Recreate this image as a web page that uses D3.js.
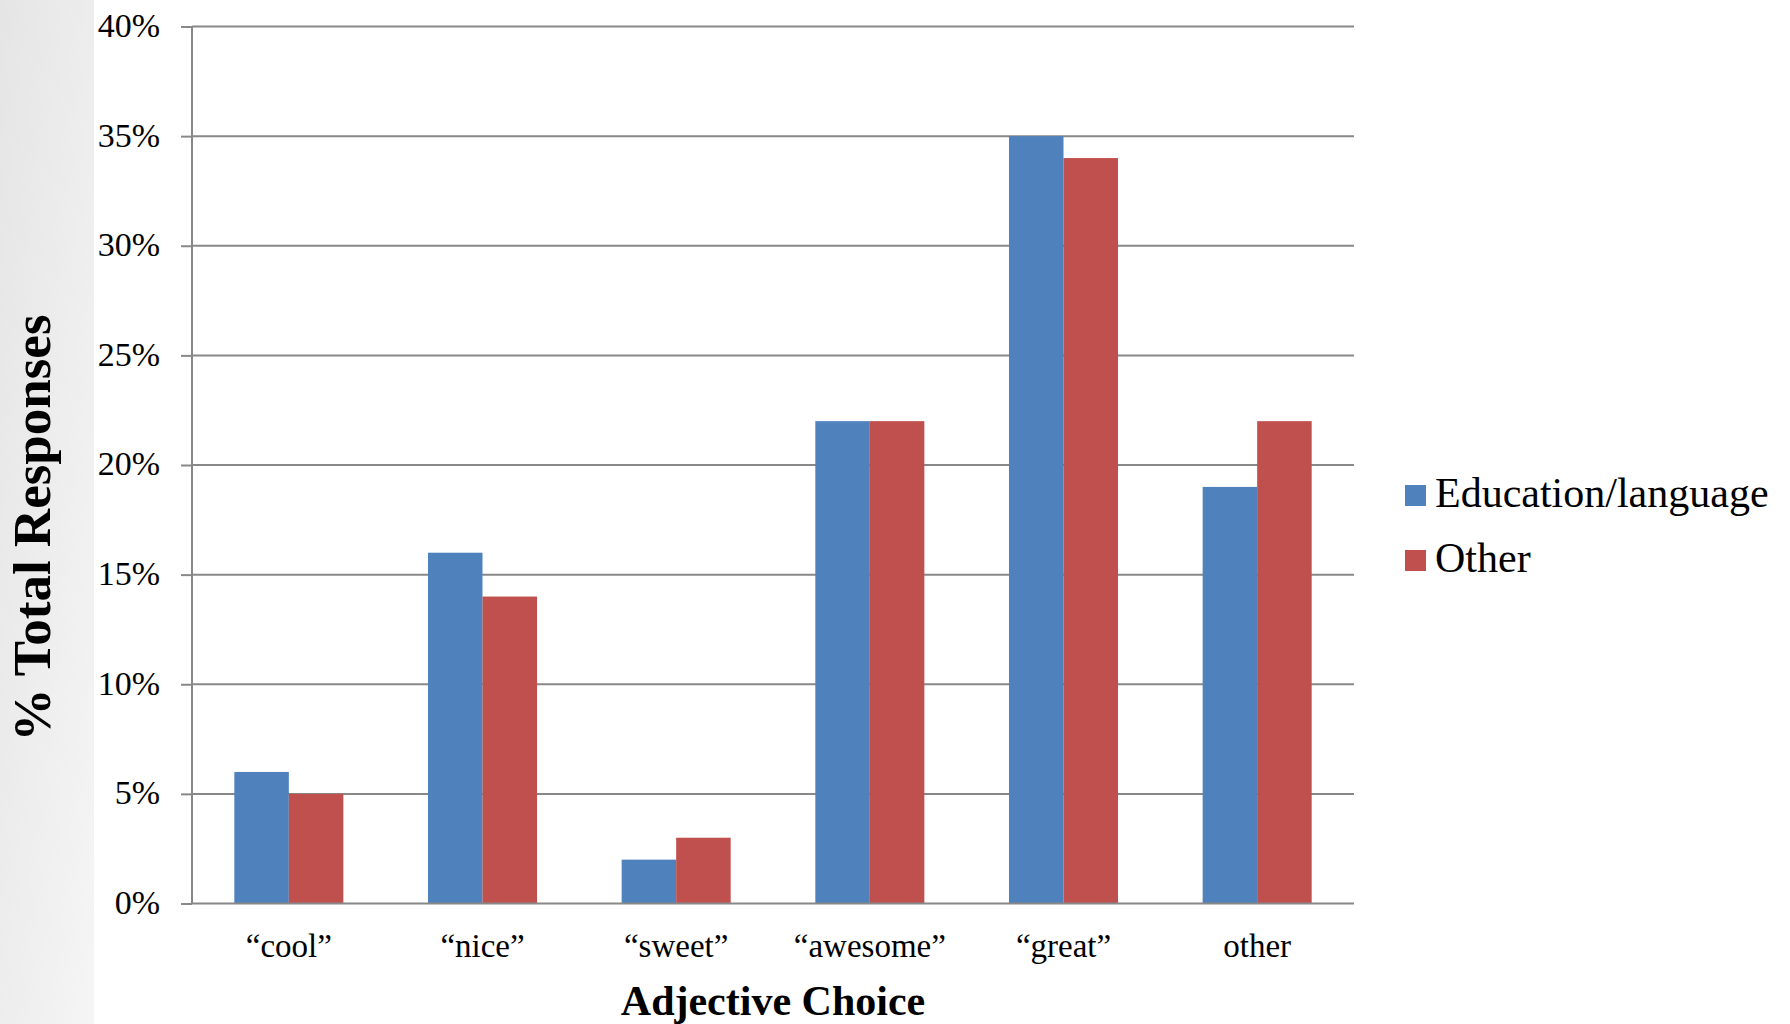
<!DOCTYPE html>
<html>
<head>
<meta charset="utf-8">
<script src="https://cdn.jsdelivr.net/npm/d3@7"></script>
<style>
  html, body { margin: 0; padding: 0; background: #ffffff; }
  svg { display: block; }
  text { font-family: "Liberation Serif", "Times New Roman", serif; fill: #000; }
</style>
</head>
<body>
<svg id="chart" width="1790" height="1024"></svg>
<script>
// Adjective choices on the category axis
const categories = ["\u201Ccool\u201D", "\u201Cnice\u201D", "\u201Csweet\u201D", "\u201Cawesome\u201D", "\u201Cgreat\u201D", "other"];
// Series names and colours
const seriesNames = ["Education/language", "Other"];
const seriesColors = ["#4f81bd", "#c0504d"];
// Share of total responses (fraction) per category
const educationValues = [0.06, 0.16, 0.02, 0.22, 0.35, 0.19];
const otherValues = [0.05, 0.14, 0.03, 0.22, 0.34, 0.22];
// Value axis ticks
const yTicks = [0, 0.05, 0.10, 0.15, 0.20, 0.25, 0.30, 0.35, 0.40];

const svg = d3.select("#chart");
const W = 1790, H = 1024;

// Grey side panel on the left edge
const defs = svg.append("defs");
const grad = defs.append("linearGradient").attr("id", "panelGrad")
  .attr("x1", "0").attr("y1", "0").attr("x2", "1").attr("y2", "1");
grad.append("stop").attr("offset", "0%").attr("stop-color", "#e5e5e5");
grad.append("stop").attr("offset", "100%").attr("stop-color", "#f5f5f5");
svg.append("rect").attr("x", 0).attr("y", 0).attr("width", 94).attr("height", H)
  .attr("fill", "url(#panelGrad)");

const plot = { left: 192, right: 1354, top: 26.5, bottom: 903.5 };

const x0 = d3.scaleBand().domain(categories)
  .range([plot.left, plot.right])
  .paddingInner(0.437).paddingOuter(0.2185);
const x1 = d3.scaleBand().domain(seriesNames).range([0, x0.bandwidth()]).padding(0);
const y = d3.scaleLinear().domain([0, 0.40]).range([plot.bottom, plot.top]);

const gridColor = "#888888";

// Horizontal gridlines
svg.append("g").selectAll("line").data(yTicks.filter(d => d > 0)).join("line")
  .attr("x1", plot.left).attr("x2", plot.right)
  .attr("y1", d => y(d)).attr("y2", d => y(d))
  .attr("stroke", gridColor).attr("stroke-width", 2);

// Bars
const rows = categories.map((c, i) => ({ cat: c, vals: [educationValues[i], otherValues[i]] }));
const groups = svg.append("g").selectAll("g").data(rows).join("g")
  .attr("transform", d => `translate(${x0(d.cat)},0)`);
groups.selectAll("rect").data(d => d.vals.map((v, j) => ({ v, s: seriesNames[j], c: seriesColors[j] })))
  .join("rect")
  .attr("x", d => x1(d.s))
  .attr("width", x1.bandwidth())
  .attr("y", d => y(d.v))
  .attr("height", d => y(0) - y(d.v))
  .attr("fill", d => d.c);

// Value axis with outward tick marks
const yAxis = d3.axisLeft(y).tickValues(yTicks).tickSize(11).tickPadding(21)
  .tickFormat(d => Math.round(d * 100) + "%");
const yg = svg.append("g").attr("transform", `translate(${plot.left},0)`).call(yAxis);
yg.select(".domain").attr("stroke", gridColor).attr("stroke-width", 2)
  .attr("d", `M0,${plot.top}V${plot.bottom}`);
yg.selectAll(".tick line").attr("stroke", gridColor).attr("stroke-width", 2);
yg.selectAll(".tick text")
  .style("font-family", "'Liberation Serif', 'Times New Roman', serif")
  .style("font-size", "34px").attr("fill", "#000").attr("dy", "0.29em");

// Category axis (baseline, no tick marks)
const xAxis = d3.axisBottom(x0).tickSize(0).tickPadding(0);
const xg = svg.append("g").attr("transform", `translate(0,${plot.bottom})`).call(xAxis);
xg.select(".domain").attr("stroke", gridColor).attr("stroke-width", 2)
  .attr("d", `M${plot.left},0H${plot.right}`);
xg.selectAll(".tick text")
  .style("font-family", "'Liberation Serif', 'Times New Roman', serif")
  .style("font-size", "33px").attr("fill", "#000")
  .attr("y", 53.5).attr("dy", 0);

// Axis titles
svg.append("text")
  .attr("x", (plot.left + plot.right) / 2).attr("y", 1015)
  .attr("text-anchor", "middle")
  .style("font-size", "42px").style("font-weight", "bold")
  .text("Adjective Choice");

svg.append("text")
  .attr("transform", "translate(50,528) rotate(-90)")
  .attr("text-anchor", "middle")
  .style("font-size", "53px").style("font-weight", "bold")
  .text("% Total Responses");

// Legend
const legend = svg.append("g").selectAll("g").data(seriesNames).join("g")
  .attr("transform", (d, i) => `translate(1405,${485 + i * 65})`);
legend.append("rect").attr("width", 21).attr("height", 21)
  .attr("fill", (d, i) => seriesColors[i]);
legend.append("text").attr("x", 30).attr("y", 21.5)
  .style("font-size", "42px").text(d => d);
</script>
</body>
</html>
